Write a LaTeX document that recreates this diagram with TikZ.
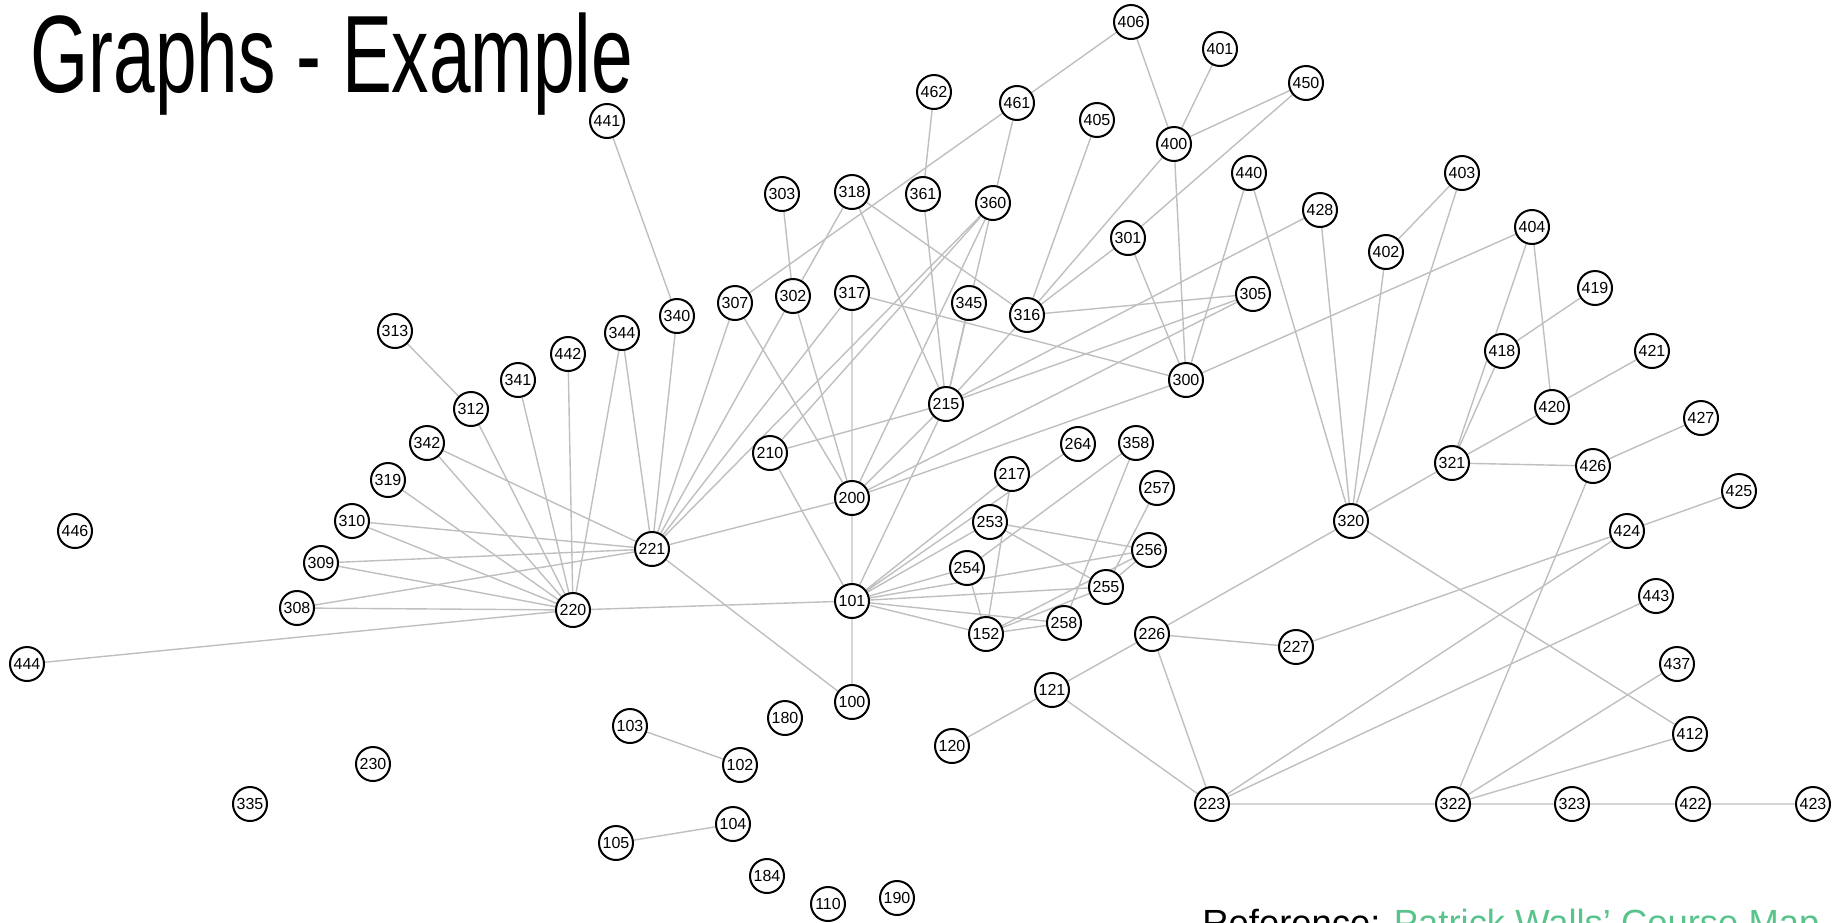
\documentclass[tikz,border=0pt]{standalone}
\usepackage{fontspec}
\setmainfont{Liberation Sans}
\usepackage{tikz}
\usetikzlibrary{backgrounds}

\definecolor{refgreen}{RGB}{88,196,140}

\tikzset{
  vtx/.style={circle, draw=black, line width=1pt, fill=white, minimum size=17pt,
    inner sep=0pt, font=\fontsize{8}{9}\selectfont},
  link/.style={draw=black!25, line width=0.7pt},
}

\begin{document}
\begin{tikzpicture}[x=0.5pt, y=-0.5pt]
\useasboundingbox (0,0) rectangle (1833,922);
\clip (0,0) rectangle (1833,922);

% Title
\node[anchor=base west, inner sep=0pt] (title) at (30,92)
  {\scalebox{0.68}[1]{\fontsize{55}{60}\selectfont Graphs - Example}};

% Courses, 100 level
\node[vtx] (n100) at (852,702) {100};
\node[vtx] (n101) at (852,601) {101};
\node[vtx] (n102) at (740,765) {102};
\node[vtx] (n103) at (630,726) {103};
\node[vtx] (n104) at (733,824) {104};
\node[vtx] (n105) at (616,843) {105};
\node[vtx] (n110) at (828,904) {110};
\node[vtx] (n120) at (952,746) {120};
\node[vtx] (n121) at (1052,690) {121};
\node[vtx] (n152) at (986,634) {152};
\node[vtx] (n180) at (785,718) {180};
\node[vtx] (n184) at (767,876) {184};
\node[vtx] (n190) at (897,898) {190};

% 200 level
\node[vtx] (n200) at (852,498) {200};
\node[vtx] (n210) at (770,453) {210};
\node[vtx] (n215) at (946,404) {215};
\node[vtx] (n217) at (1012,474) {217};
\node[vtx] (n220) at (573,610) {220};
\node[vtx] (n221) at (652,549) {221};
\node[vtx] (n223) at (1212,804) {223};
\node[vtx] (n226) at (1152,634) {226};
\node[vtx] (n227) at (1296,647) {227};
\node[vtx] (n230) at (373,764) {230};
\node[vtx] (n253) at (990,522) {253};
\node[vtx] (n254) at (967,568) {254};
\node[vtx] (n255) at (1106,587) {255};
\node[vtx] (n256) at (1149,550) {256};
\node[vtx] (n257) at (1157,488) {257};
\node[vtx] (n258) at (1064,623) {258};
\node[vtx] (n264) at (1078,444) {264};

% 300 level
\node[vtx] (n300) at (1186,380) {300};
\node[vtx] (n301) at (1128,238) {301};
\node[vtx] (n302) at (793,296) {302};
\node[vtx] (n303) at (782,194) {303};
\node[vtx] (n305) at (1253,294) {305};
\node[vtx] (n307) at (735,303) {307};
\node[vtx] (n308) at (297,608) {308};
\node[vtx] (n309) at (321,563) {309};
\node[vtx] (n310) at (352,521) {310};
\node[vtx] (n312) at (471,409) {312};
\node[vtx] (n313) at (395,331) {313};
\node[vtx] (n316) at (1027,315) {316};
\node[vtx] (n317) at (852,293) {317};
\node[vtx] (n318) at (852,192) {318};
\node[vtx] (n319) at (388,480) {319};
\node[vtx] (n320) at (1351,521) {320};
\node[vtx] (n321) at (1452,463) {321};
\node[vtx] (n322) at (1453,804) {322};
\node[vtx] (n323) at (1572,804) {323};
\node[vtx] (n335) at (250,804) {335};
\node[vtx] (n340) at (677,316) {340};
\node[vtx] (n341) at (518,380) {341};
\node[vtx] (n342) at (427,443) {342};
\node[vtx] (n344) at (622,333) {344};
\node[vtx] (n345) at (969,303) {345};
\node[vtx] (n358) at (1136,443) {358};
\node[vtx] (n360) at (993,203) {360};
\node[vtx] (n361) at (923,194) {361};

% 400 level
\node[vtx] (n400) at (1174,144) {400};
\node[vtx] (n401) at (1220,49) {401};
\node[vtx] (n402) at (1386,252) {402};
\node[vtx] (n403) at (1462,173) {403};
\node[vtx] (n404) at (1532,227) {404};
\node[vtx] (n405) at (1097,120) {405};
\node[vtx] (n406) at (1131,22) {406};
\node[vtx] (n412) at (1690,734) {412};
\node[vtx] (n418) at (1502,351) {418};
\node[vtx] (n419) at (1595,288) {419};
\node[vtx] (n420) at (1552,407) {420};
\node[vtx] (n421) at (1652,351) {421};
\node[vtx] (n422) at (1693,804) {422};
\node[vtx] (n423) at (1813,804) {423};
\node[vtx] (n424) at (1627,531) {424};
\node[vtx] (n425) at (1739,491) {425};
\node[vtx] (n426) at (1593,466) {426};
\node[vtx] (n427) at (1701,418) {427};
\node[vtx] (n428) at (1320,210) {428};
\node[vtx] (n437) at (1677,664) {437};
\node[vtx] (n440) at (1249,173) {440};
\node[vtx] (n441) at (607,121) {441};
\node[vtx] (n442) at (568,354) {442};
\node[vtx] (n443) at (1656,596) {443};
\node[vtx] (n444) at (27,664) {444};
\node[vtx] (n446) at (75,531) {446};
\node[vtx] (n450) at (1306,83) {450};
\node[vtx] (n461) at (1017,103) {461};
\node[vtx] (n462) at (934,92) {462};

% Prerequisite links
\begin{scope}[on background layer]
\draw[link] (n441) -- (n340) (n313) -- (n312);
% into 220
\draw[link] (n220) -- (n312) (n220) -- (n341) (n220) -- (n442) (n220) -- (n344)
  (n220) -- (n342) (n220) -- (n319) (n220) -- (n310) (n220) -- (n309)
  (n220) -- (n308) (n220) -- (n444) (n220) -- (n101);
% into 221
\draw[link] (n221) -- (n344) (n221) -- (n340) (n221) -- (n342) (n221) -- (n310)
  (n221) -- (n309) (n221) -- (n308) (n221) -- (n307) (n221) -- (n302)
  (n221) -- (n317) (n221) -- (n360) (n221) -- (n200) (n221) -- (n100);
% upper middle
\draw[link] (n302) -- (n318) (n302) -- (n303) (n302) -- (n200);
\draw[link] (n307) -- (n461) (n307) -- (n200);
\draw[link] (n317) -- (n200) (n317) -- (n300);
\draw[link] (n318) -- (n215) (n318) -- (n316);
\draw[link] (n360) -- (n461) (n360) -- (n210) (n360) -- (n200) (n360) -- (n215);
\draw[link] (n345) -- (n215) (n361) -- (n462) (n361) -- (n215);
\draw[link] (n316) -- (n405) (n316) -- (n400) (n316) -- (n301) (n316) -- (n305)
  (n316) -- (n215);
\draw[link] (n301) -- (n450) (n301) -- (n300);
\draw[link] (n400) -- (n406) (n400) -- (n401) (n400) -- (n450) (n400) -- (n300);
\draw[link] (n406) -- (n461);
\draw[link] (n440) -- (n300) (n440) -- (n320) (n428) -- (n215) (n428) -- (n320);
\draw[link] (n305) -- (n215) (n305) -- (n200);
\draw[link] (n300) -- (n200) (n300) -- (n404);
\draw[link] (n210) -- (n215) (n210) -- (n101) (n200) -- (n215) (n200) -- (n101)
  (n215) -- (n101);
% out of 101
\draw[link] (n101) -- (n100) (n101) -- (n217) (n101) -- (n253) (n101) -- (n254)
  (n101) -- (n264) (n101) -- (n256) (n101) -- (n255) (n101) -- (n258)
  (n101) -- (n152);
\draw[link] (n217) -- (n152) (n253) -- (n256) (n253) -- (n255) (n254) -- (n152)
  (n254) -- (n358) (n358) -- (n258) (n257) -- (n255) (n256) -- (n255)
  (n152) -- (n255) (n152) -- (n256) (n152) -- (n258);
% right part
\draw[link] (n226) -- (n320) (n226) -- (n227) (n226) -- (n121) (n226) -- (n223);
\draw[link] (n121) -- (n120) (n121) -- (n223) (n227) -- (n424);
\draw[link] (n223) -- (n424) (n223) -- (n443) (n223) -- (n322);
\draw[link] (n320) -- (n402) (n320) -- (n403) (n320) -- (n321) (n320) -- (n412)
  (n402) -- (n403);
\draw[link] (n321) -- (n418) (n321) -- (n404) (n321) -- (n420) (n321) -- (n426);
\draw[link] (n404) -- (n420) (n418) -- (n419) (n420) -- (n421) (n426) -- (n427)
  (n426) -- (n322) (n424) -- (n425);
\draw[link] (n322) -- (n437) (n322) -- (n412) (n322) -- (n323) (n323) -- (n422)
  (n422) -- (n423);
% small pairs
\draw[link] (n103) -- (n102) (n104) -- (n105);
\end{scope}

% Reference line, cut at the bottom
\node[anchor=base west, inner sep=0pt] (ref) at (1202,935)
  {\fontsize{18.2}{20}\selectfont Reference: \textcolor{refgreen}{Patrick Walls’ Course Map}};

\end{tikzpicture}
\end{document}
